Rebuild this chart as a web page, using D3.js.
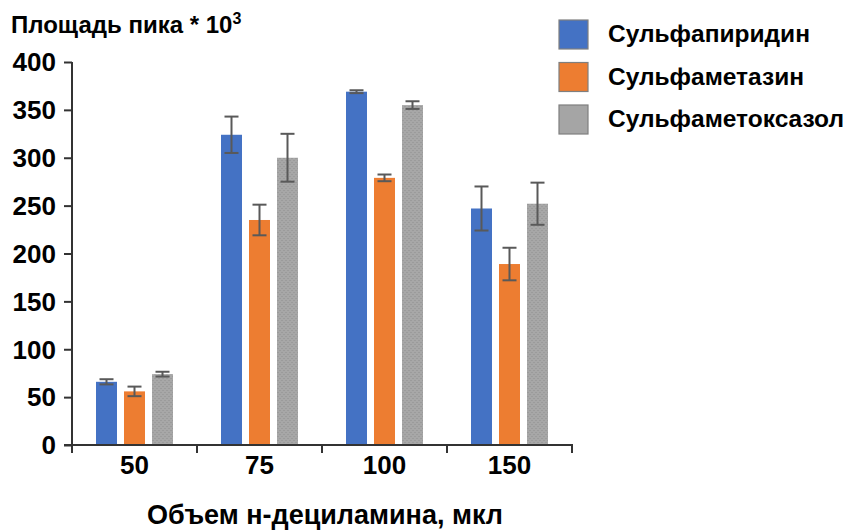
<!DOCTYPE html>
<html>
<head>
<meta charset="utf-8">
<script src="https://cdn.jsdelivr.net/npm/d3@7"></script>
<style>
  html, body { margin: 0; padding: 0; background: #fff; }
  svg { display: block; }
  text { font-family: "Liberation Sans", Arial, sans-serif; font-weight: bold; fill: #000; }
</style>
</head>
<body>
<svg id="chart" width="854" height="531"></svg>
<script>
const categories = ["50", "75", "100", "150"];
const series = ["Сульфапиридин", "Сульфаметазин", "Сульфаметоксазол"];
const values = [
  [66, 324, 369, 247],
  [56, 235, 279, 189],
  [74, 300, 355, 252]
];
const errors = [
  [2.7, 19, 1.5, 23],
  [5, 16, 3.5, 17],
  [2.5, 25, 4, 22]
];
const yTicks = [0, 50, 100, 150, 200, 250, 300, 350, 400];
const colors = ["#4472c4", "#ed7d31", "#a5a5a5"];

const svg = d3.select("#chart");
const defs = svg.append("defs");
const pat = defs.append("pattern").attr("id", "stipple")
  .attr("patternUnits", "userSpaceOnUse").attr("width", 4).attr("height", 4);
pat.append("rect").attr("width", 4).attr("height", 4).attr("fill", "#a7a7a7");
pat.append("rect").attr("x", 0).attr("y", 0).attr("width", 1).attr("height", 1).attr("fill", "#8e8e8e");
pat.append("rect").attr("x", 2).attr("y", 2).attr("width", 1).attr("height", 1).attr("fill", "#8e8e8e");
const fills = [colors[0], colors[1], "url(#stipple)"];

const x0 = d3.scaleBand().domain(categories).range([72, 572]).padding(0);
const x1 = d3.scaleBand().domain(d3.range(series.length)).range([0, 84]).paddingInner(0.25).paddingOuter(0.125);
const y = d3.scaleLinear().domain([0, 400]).range([445, 62]);

// bars
const groups = svg.append("g").selectAll("g").data(categories).join("g")
  .attr("transform", c => `translate(${x0(c) + x0.bandwidth() / 2 - 42},0)`);

series.forEach((s, si) => {
  groups.append("rect")
    .attr("x", x1(si))
    .attr("width", x1.bandwidth())
    .attr("y", (c, ci) => y(values[si][ci]))
    .attr("height", (c, ci) => y(0) - y(values[si][ci]))
    .attr("fill", fills[si]);
});

// error bars
series.forEach((s, si) => {
  const eg = groups.append("g").attr("stroke", "#595959").attr("stroke-width", 2).attr("fill", "none");
  const cx = x1(si) + x1.bandwidth() / 2;
  eg.append("line").attr("x1", cx).attr("x2", cx)
    .attr("y1", (c, ci) => y(values[si][ci] + errors[si][ci]))
    .attr("y2", (c, ci) => y(values[si][ci] - errors[si][ci]));
  eg.append("line").attr("x1", cx - 7).attr("x2", cx + 7)
    .attr("y1", (c, ci) => y(values[si][ci] + errors[si][ci]))
    .attr("y2", (c, ci) => y(values[si][ci] + errors[si][ci]));
  eg.append("line").attr("x1", cx - 7).attr("x2", cx + 7)
    .attr("y1", (c, ci) => y(values[si][ci] - errors[si][ci]))
    .attr("y2", (c, ci) => y(values[si][ci] - errors[si][ci]));
});

const tickFont = "26px";

// y axis
const yAxis = svg.append("g").attr("transform", "translate(72,0)")
  .call(d3.axisLeft(y).tickValues(yTicks).tickSize(8).tickSizeOuter(0).tickPadding(8));
yAxis.select(".domain").attr("stroke", "#333").attr("stroke-width", 2).attr("d", `M0,${y(400)}V${y(0) + 8}`);
yAxis.selectAll(".tick line").attr("stroke", "#333").attr("stroke-width", 2);
yAxis.selectAll(".tick text").style("font-size", tickFont).style("font-family", "Liberation Sans, Arial, sans-serif").style("font-weight", "bold").attr("fill", "#000").attr("dy", "0.34em");

// x axis
const xAxis = svg.append("g").attr("transform", `translate(0,${y(0)})`)
  .call(d3.axisBottom(x0).tickSize(0).tickPadding(12));
xAxis.select(".domain").attr("stroke", "#333").attr("stroke-width", 2).attr("d", "M64,0H572V8");
xAxis.selectAll(".tick text").style("font-size", tickFont).style("font-family", "Liberation Sans, Arial, sans-serif").style("font-weight", "bold").attr("fill", "#000").attr("dy", "0.66em");
// boundary ticks between groups
svg.append("g").selectAll("line").data(categories.slice(1)).join("line")
  .attr("x1", c => x0(c)).attr("x2", c => x0(c))
  .attr("y1", y(0)).attr("y2", y(0) + 8)
  .attr("stroke", "#333").attr("stroke-width", 2);

// titles
const t = svg.append("text").attr("x", 11).attr("y", 33).style("font-size", "24px");
t.append("tspan").text("Площадь пика * 10");
t.append("tspan").text("3").style("font-size", "16px").attr("dy", -9);

svg.append("text").attr("x", 325).attr("y", 524).attr("text-anchor", "middle")
  .style("font-size", "27px").text("Объем н-дециламина, мкл");

// legend
const leg = svg.append("g").selectAll("g").data(series).join("g")
  .attr("transform", (d, i) => `translate(559,${20 + i * 42.5})`);
leg.append("rect").attr("width", 29).attr("height", 29)
  .attr("fill", (d, i) => colors[i]).attr("stroke", "#7f7f7f").attr("stroke-width", 1.2);
leg.append("text").attr("x", 49).attr("y", 22).style("font-size", "24.5px").text(d => d);
</script>
</body>
</html>
